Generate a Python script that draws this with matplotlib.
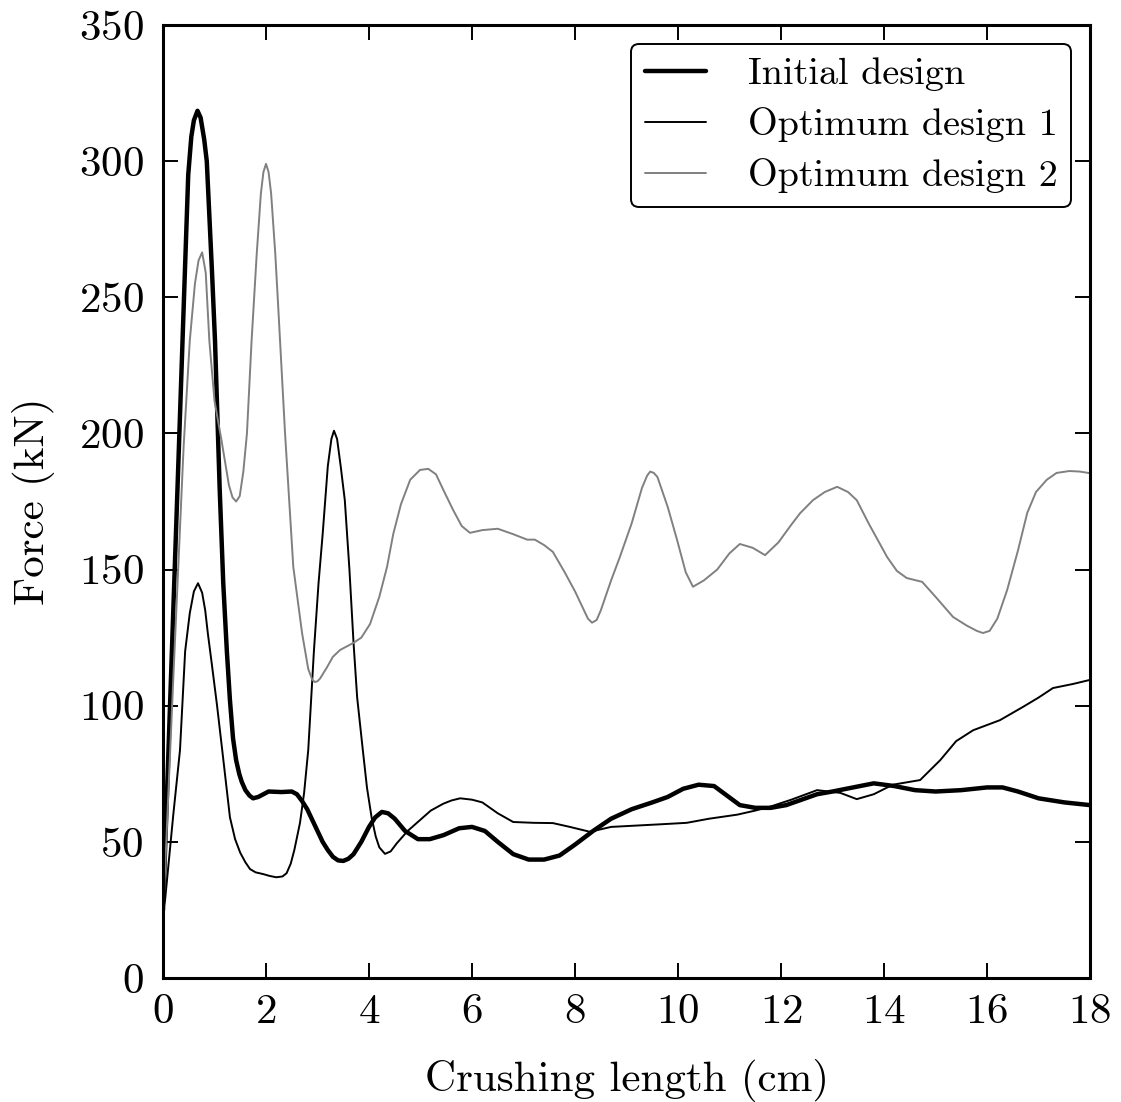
import matplotlib
matplotlib.use("Agg")
import matplotlib.pyplot as plt

# crushing length (cm) and force (kN) for each design
x_initial = [0.0, 0.14, 0.3, 0.39, 0.49, 0.55, 0.6, 0.67, 0.73, 0.8, 0.85, 0.95, 1.01, 1.1,
             1.17, 1.24, 1.3, 1.36, 1.42, 1.48, 1.53, 1.6, 1.68, 1.75, 1.85, 1.95, 2.05, 2.3,
             2.5, 2.6, 2.7, 2.8, 2.9, 3.0, 3.1, 3.2, 3.3, 3.4, 3.5, 3.6, 3.7, 3.85, 4.0, 4.12,
             4.25, 4.37, 4.5, 4.7, 4.95, 5.18, 5.45, 5.75, 6.0, 6.25, 6.5, 6.8, 7.1, 7.4, 7.7,
             8.0, 8.35, 8.7, 9.1, 9.5, 9.8, 10.1, 10.4, 10.7, 10.95, 11.2, 11.5, 11.8, 12.1,
             12.4, 12.7, 13.0, 13.4, 13.8, 14.2, 14.6, 15.0, 15.5, 16.0, 16.3, 16.6, 17.0,
             17.5, 18.0]
f_initial = [25, 102, 190, 240, 295, 309, 315, 318.5, 316, 308, 300, 260, 234, 180,
             145, 120, 102, 88, 80, 75, 72, 69, 67, 66, 66.5, 67.5, 68.5, 68.3,
             68.5, 67.5, 65, 62, 58, 54, 50, 47, 44.5, 43.2, 43, 43.8, 45.5, 50, 55.5, 59,
             61, 60.5, 58.5, 54, 51, 51, 52.5, 55, 55.5, 54, 50, 45.5, 43.5, 43.5, 45,
             49, 54, 58.5, 62, 64.5, 66.5, 69.5, 71, 70.5, 67, 63.5, 62.5, 62.5, 63.5,
             65.5, 67.5, 68.5, 70, 71.5, 70.5, 69, 68.5, 69, 70, 70, 68.5, 66,
             64.5, 63.5]

x_opt1 = [0.0, 0.04, 0.2, 0.33, 0.43, 0.52, 0.6, 0.68, 0.76, 0.82, 0.87, 0.95, 1.05, 1.15,
          1.3, 1.4, 1.5, 1.6, 1.69, 1.8, 1.94, 2.07, 2.2, 2.32, 2.4, 2.48, 2.55, 2.66, 2.74,
          2.82, 2.93, 3.02, 3.1, 3.2, 3.27, 3.32, 3.38, 3.45, 3.53, 3.62, 3.7, 3.77, 3.88,
          3.96, 4.05, 4.13, 4.2, 4.31, 4.42, 4.54, 4.75, 4.99, 5.2, 5.44, 5.6, 5.77, 6.0,
          6.2, 6.5, 6.8, 7.2, 7.57, 7.9, 8.29, 8.7, 9.2, 9.7, 10.17, 10.6, 11.15, 11.5,
          11.8, 12.2, 12.7, 13.15, 13.47, 13.8, 14.17, 14.7, 15.09, 15.4, 15.73, 16.25,
          16.7, 17.0, 17.28, 17.67, 18.0]
f_opt1 = [25, 28.6, 60, 83.7, 120, 134, 142, 145, 141.5, 135, 126.7, 115, 100, 83.7,
          59, 51, 46, 42.5, 40, 38.8, 38.2, 37.5, 37, 37.3, 38.5, 42, 47, 57, 68,
          83.7, 120, 145, 163, 188, 198, 201, 198, 188, 175.5, 150, 123, 103, 83.7,
          70, 59, 52, 48, 45.6, 46.5, 49.5, 54, 58, 61.5, 64, 65.2, 66, 65.5,
          64.5, 60.5, 57.3, 57, 56.9, 55.5, 53.7, 55.5, 56, 56.5, 57, 58.5, 60, 61.5,
          63, 65.5, 69, 68, 65.7, 67.5, 71, 72.7, 80, 87, 91, 94.7,
          99.6, 103, 106.5, 108, 109.5]

x_opt2 = [0.0, 0.2, 0.4, 0.52, 0.62, 0.69, 0.76, 0.83, 0.9, 1.0, 1.14, 1.28, 1.35, 1.42,
          1.49, 1.56, 1.63, 1.72, 1.82, 1.9, 1.95, 2.0, 2.05, 2.1, 2.18, 2.23, 2.37, 2.53,
          2.7, 2.82, 2.9, 2.95, 3.0, 3.05, 3.18, 3.3, 3.44, 3.69, 3.85, 4.02, 4.2, 4.35,
          4.47, 4.62, 4.8, 4.99, 5.15, 5.3, 5.45, 5.63, 5.8, 5.96, 6.2, 6.5, 6.8, 7.07,
          7.22, 7.4, 7.57, 7.8, 8.0, 8.15, 8.25, 8.33, 8.42, 8.5, 8.7, 8.87, 9.1, 9.3,
          9.4, 9.46, 9.53, 9.6, 9.8, 9.98, 10.15, 10.29, 10.5, 10.76, 11.0, 11.2, 11.45,
          11.69, 11.95, 12.2, 12.37, 12.62, 12.85, 13.09, 13.3, 13.47, 13.7, 14.06, 14.25,
          14.44, 14.74, 15.0, 15.34, 15.6, 15.8, 15.92, 16.05, 16.2, 16.39, 16.6, 16.78,
          16.95, 17.16, 17.35, 17.6, 17.8, 18.0]
f_opt2 = [22, 110, 195, 234, 255, 263.5, 266.5, 259, 234, 212, 197, 181, 176.5, 175,
          177, 186, 200, 234, 266, 288, 296, 299, 296, 288, 266, 249, 200, 151,
          126.7, 113.5, 109.5, 108.7, 109, 110, 114, 118, 120.5, 123, 125, 130, 140, 151,
          163, 174, 183, 186.6, 187, 185, 179, 172, 166, 163.5, 164.5, 165, 163, 161,
          161, 159, 156.5, 149, 142, 136, 132, 130.5, 131.5, 135, 146, 154.6, 167, 180,
          184.5, 186, 185.5, 184, 173, 161, 149, 143.7, 146, 150, 156, 159.4, 158,
          155.3, 160, 166.5, 170.7, 175.5, 178.5, 180.4, 178.5, 175.5, 167, 154.6, 149.5,
          146.9, 145.5, 140, 132.6, 129.5, 127.5, 126.7, 127.5, 132, 142.5, 157, 170.8,
          178.5, 183, 185.5, 186.2, 186, 185.4]

plt.rcParams['font.family'] = 'serif'
plt.rcParams['font.serif'] = ['cmr10']
plt.rcParams['mathtext.fontset'] = 'cm'
plt.rcParams['axes.formatter.use_mathtext'] = True
plt.rcParams['font.size'] = 31

fig = plt.figure(figsize=(11.21, 11.02), dpi=100)
ax = fig.add_axes([0.1454, 0.1125, 0.8270, 0.8648])

line_kw = dict(solid_joinstyle='round', solid_capstyle='round')
ax.plot(x_initial, f_initial, color='black', lw=3.2, label='Initial design', **line_kw)
ax.plot(x_opt1, f_opt1, color='black', lw=1.4, label='Optimum design 1', **line_kw)
ax.plot(x_opt2, f_opt2, color='0.5', lw=1.4, label='Optimum design 2', **line_kw)

ax.set_xlim(0, 18)
ax.set_ylim(0, 350)
ax.set_xticks(range(0, 19, 2))
ax.set_yticks(range(0, 351, 50))
ax.set_xlabel('Crushing length (cm)', labelpad=20)
ax.set_ylabel('Force (kN)', labelpad=17)

for spine in ax.spines.values():
    spine.set_linewidth(2.2)
ax.tick_params(direction='in', length=11, width=1.4, top=True, right=True)
ax.tick_params(axis='x', pad=11)
ax.tick_params(axis='y', pad=14)

leg = ax.legend(loc='upper right', fontsize=27.5, handlelength=1.6, handletextpad=1.1,
                borderpad=0.35, labelspacing=0.42, fancybox=True, framealpha=1.0,
                borderaxespad=0.5)
leg.get_frame().set_edgecolor('black')
leg.get_frame().set_linewidth(1.4)

fig.savefig('out.png', dpi=100)
